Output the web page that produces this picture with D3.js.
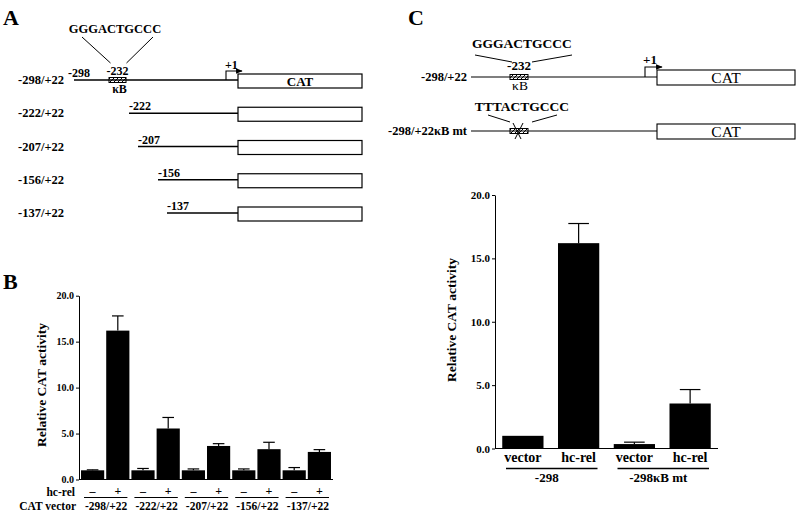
<!DOCTYPE html>
<html>
<head>
<meta charset="utf-8">
<script src="https://cdn.jsdelivr.net/npm/d3@7"></script>
<style>
  body { margin: 0; background: #fff; }
  text { font-family: "Liberation Serif", "Times New Roman", serif; font-weight: bold; fill: #000; }
  text.plain { font-weight: normal; }
</style>
</head>
<body>
<svg id="fig"></svg>
<script>
// ---- data ----
const constructs     = ['-298/+22', '-222/+22', '-207/+22', '-156/+22', '-137/+22'];
const constructStart = [-298, -222, -207, -156, -137];
const kbSite         = -232;
const kbSeq          = 'GGGACTGCCC';
const kbMutSeq       = 'TTTACTGCCC';

const hcRelMarks  = ['–', '+'];
const vectorMean  = [1.0, 1.0, 1.0, 1.0, 1.0];
const vectorErr   = [0.05, 0.2, 0.15, 0.15, 0.3];
const hcRelMean   = [16.2, 5.55, 3.65, 3.3, 3.0];
const hcRelErr    = [1.6, 1.2, 0.25, 0.75, 0.25];
const yTicks      = [0, 5, 10, 15, 20];

const cConstructs = ['-298/+22', '-298/+22κB mt'];
const cGroups     = ['-298', '-298κB mt'];
const cTreatments = ['vector', 'hc-rel'];
const cMean       = [1.0, 16.2, 0.35, 3.55];
const cErr        = [0, 1.55, 0.15, 1.1];

const SVG_W = 800, SVG_H = 518;

const svg = d3.select('#fig').attr('width', SVG_W).attr('height', SVG_H);

const defs = svg.append('defs');
defs.append('pattern')
  .attr('id', 'hatch').attr('patternUnits', 'userSpaceOnUse')
  .attr('width', 4).attr('height', 4)
  .append('path').attr('d', 'M-1,5 L5,-1').attr('stroke', '#000').attr('stroke-width', 1);
defs.append('marker')
  .attr('id', 'arrow').attr('viewBox', '0 0 10 10')
  .attr('refX', 9).attr('refY', 5)
  .attr('markerWidth', 6).attr('markerHeight', 6).attr('orient', 'auto')
  .append('path').attr('d', 'M0,1 L10,5 L0,9 z').attr('fill', '#000');

// panel letters
svg.append('text').attr('x', 3).attr('y', 25).attr('font-size', 22).text('A');
svg.append('text').attr('x', 3).attr('y', 289).attr('font-size', 22).text('B');
svg.append('text').attr('x', 408).attr('y', 25).attr('font-size', 22).text('C');

// ---- panel A: deletion constructs ----
// schematic, not to scale: piecewise position scale
const posA = d3.scaleLinear()
  .domain([-298, kbSite, -222, -207, -156, -137, 1, 22])
  .range([74, 117.5, 129, 138, 158, 167, 226, 238]);
const rowA = d3.scalePoint().domain(constructs).range([80, 213]);
const CAT_W = 124;

const gA = svg.append('g');
constructs.forEach((c, i) => {
  const y = rowA(c);
  const x0 = posA(constructStart[i]);
  gA.append('text').attr('x', 18).attr('y', y + 4).attr('font-size', 12.5).text(c);
  gA.append('line').attr('x1', x0).attr('x2', posA(22)).attr('y1', y).attr('y2', y)
    .attr('stroke', '#000').attr('stroke-width', 1.3);
  gA.append('text').attr('x', x0 - (i === 0 ? 6 : 0)).attr('y', y - 3)
    .attr('font-size', 12).text(constructStart[i]);
  gA.append('rect').attr('x', posA(22)).attr('y', y - 6).attr('width', CAT_W).attr('height', 14)
    .attr('fill', '#fff').attr('stroke', '#000').attr('stroke-width', 1.2);
});
{
  const y = rowA(constructs[0]);
  const kx = posA(kbSite);
  gA.append('rect').attr('x', kx - 8.5).attr('y', y - 2.5).attr('width', 17).attr('height', 5)
    .attr('fill', 'url(#hatch)').attr('stroke', '#000').attr('stroke-width', 1);
  gA.append('text').attr('x', kx).attr('y', y - 5).attr('text-anchor', 'middle')
    .attr('font-size', 12).text(kbSite);
  gA.append('text').attr('x', kx + 2).attr('y', y + 13).attr('text-anchor', 'middle')
    .attr('font-size', 12).text('κB');
  gA.append('text').attr('x', 115).attr('y', 33).attr('text-anchor', 'middle')
    .attr('font-size', 12.5).text(kbSeq);
  gA.append('line').attr('x1', 82).attr('y1', 37).attr('x2', kx - 7).attr('y2', y - 17)
    .attr('stroke', '#000');
  gA.append('line').attr('x1', 153).attr('y1', 37).attr('x2', kx + 9).attr('y2', y - 17)
    .attr('stroke', '#000');
  const tx = posA(1);
  gA.append('path').attr('d', `M${tx},${y} V${y - 9} H${tx + 16}`)
    .attr('fill', 'none').attr('stroke', '#000').attr('stroke-width', 1.1)
    .attr('marker-end', 'url(#arrow)');
  gA.append('text').attr('x', tx - 1).attr('y', y - 11).attr('font-size', 12).text('+1');
  gA.append('text').attr('x', posA(22) + CAT_W / 2).attr('y', y + 6).attr('text-anchor', 'middle')
    .attr('font-size', 13).text('CAT');
}

// ---- shared bar helpers ----
function drawYAxis(g, y, x, fontSize) {
  const ax = g.append('g').attr('transform', `translate(${x},0)`)
    .call(d3.axisLeft(y).tickValues(yTicks).tickFormat(d3.format('.1f'))
      .tickSizeInner(3).tickSizeOuter(0).tickPadding(2));
  ax.select('.domain').attr('stroke', '#000');
  ax.selectAll('.tick line').attr('stroke', '#000');
  ax.selectAll('.tick text').attr('font-size', fontSize)
    .attr('font-family', '"Liberation Serif", serif').attr('font-weight', 'bold');
}

function drawBars(g, data, xOf, bw, y) {
  g.selectAll('rect.bar').data(data).enter().append('rect')
    .attr('class', 'bar')
    .attr('x', d => xOf(d)).attr('width', bw)
    .attr('y', d => y(d.v)).attr('height', d => y(0) - y(d.v))
    .attr('fill', '#000');
  const err = data.filter(d => d.e > 0);
  g.selectAll('line.err').data(err).enter().append('line')
    .attr('class', 'err')
    .attr('x1', d => xOf(d) + bw / 2).attr('x2', d => xOf(d) + bw / 2)
    .attr('y1', d => y(d.v)).attr('y2', d => y(d.v + d.e))
    .attr('stroke', '#000').attr('stroke-width', 1.2);
  g.selectAll('line.cap').data(err).enter().append('line')
    .attr('class', 'cap')
    .attr('x1', d => xOf(d) + bw * 0.25).attr('x2', d => xOf(d) + bw * 0.75)
    .attr('y1', d => y(d.v + d.e)).attr('y2', d => y(d.v + d.e))
    .attr('stroke', '#000').attr('stroke-width', 1.2);
}

// ---- panel B ----
const bData = constructs.flatMap((c, i) => [
  { group: c, t: hcRelMarks[0], v: vectorMean[i], e: vectorErr[i] },
  { group: c, t: hcRelMarks[1], v: hcRelMean[i],  e: hcRelErr[i] }
]);
const yB  = d3.scaleLinear().domain([0, 20]).range([479.5, 295.7]);
const gxB = d3.scaleBand().domain(constructs).range([79, 333]).paddingInner(0).paddingOuter(0.02);
const ixB = d3.scaleBand().domain(hcRelMarks).range([0, gxB.bandwidth()]).paddingInner(0.08).paddingOuter(0.04);
const xB  = d => gxB(d.group) + ixB(d.t);

const gB = svg.append('g');
drawBars(gB, bData, xB, ixB.bandwidth(), yB);
gB.append('line').attr('x1', 79).attr('x2', 333).attr('y1', yB(0)).attr('y2', yB(0))
  .attr('stroke', '#000').attr('stroke-width', 1);
drawYAxis(gB, yB, 79, 10);
gB.append('text').attr('transform', `translate(46,385) rotate(-90)`)
  .attr('text-anchor', 'middle').attr('font-size', 13.5).text('Relative CAT activity');

gB.selectAll('text.sign').data(bData).enter().append('text')
  .attr('class', 'sign')
  .attr('x', d => xB(d) + ixB.bandwidth() / 2).attr('y', 494.5)
  .attr('text-anchor', 'middle').attr('font-size', 12).text(d => d.t);
gB.append('text').attr('x', 75).attr('y', 496).attr('text-anchor', 'end')
  .attr('font-size', 11.5).text('hc-rel');
gB.append('text').attr('x', 76).attr('y', 510).attr('text-anchor', 'end')
  .attr('font-size', 11.5).text('CAT vector');
constructs.forEach(c => {
  const gx = gxB(c);
  gB.append('line').attr('x1', gx + 4).attr('x2', gx + gxB.bandwidth() - 3)
    .attr('y1', 497.5).attr('y2', 497.5).attr('stroke', '#000').attr('stroke-width', 1.2);
  gB.append('text').attr('x', gx + gxB.bandwidth() / 2 + 1).attr('y', 510)
    .attr('text-anchor', 'middle').attr('font-size', 11.5).text(c);
});

// ---- panel C: kB mutant diagram ----
const posC = d3.scaleLinear().domain([-298, kbSite, 1, 22]).range([471, 519, 645, 657]);
const rowC = d3.scalePoint().domain(cConstructs).range([77, 131]);
const CAT_WC = 138;

const gC = svg.append('g');
cConstructs.forEach((c, i) => {
  const y = rowC(c);
  const kx = posC(kbSite);
  gC.append('text').attr('x', 467).attr('y', y + 4).attr('text-anchor', 'end')
    .attr('font-size', 12.5).text(c);
  gC.append('line').attr('x1', posC(-298)).attr('x2', posC(22)).attr('y1', y).attr('y2', y)
    .attr('stroke', '#000').attr('stroke-width', 1.2);
  gC.append('rect').attr('x', kx - 9).attr('y', y - 2.5).attr('width', 18).attr('height', 5)
    .attr('fill', 'url(#hatch)').attr('stroke', '#000').attr('stroke-width', 1);
  gC.append('rect').attr('x', posC(22)).attr('y', y - 7).attr('width', CAT_WC).attr('height', 15)
    .attr('fill', '#fff').attr('stroke', '#000').attr('stroke-width', 1.1);
  gC.append('text').attr('class', 'plain')
    .attr('x', posC(22) + CAT_WC / 2).attr('y', y + 6).attr('text-anchor', 'middle')
    .attr('font-size', 15.5).text('CAT');
  const seqY = i === 0 ? 48 : y - 20;
  gC.append('text').attr('x', 522).attr('y', seqY).attr('text-anchor', 'middle')
    .attr('font-size', 13.5).text(i === 0 ? kbSeq : kbMutSeq);
});
{
  const y = rowC(cConstructs[0]);
  const kx = posC(kbSite);
  gC.append('text').attr('x', kx).attr('y', y - 7).attr('text-anchor', 'middle')
    .attr('font-size', 13).text(kbSite);
  gC.append('text').attr('class', 'plain')
    .attr('x', kx + 1).attr('y', y + 13).attr('text-anchor', 'middle')
    .attr('font-size', 13.5).text('κB');
  gC.append('line').attr('x1', 475).attr('y1', 55).attr('x2', 512).attr('y2', 62).attr('stroke', '#000');
  gC.append('line').attr('x1', 572).attr('y1', 55).attr('x2', 532).attr('y2', 62).attr('stroke', '#000');
  const tx = posC(1);
  gC.append('path').attr('d', `M${tx},${y} V${y - 10} H${tx + 17}`)
    .attr('fill', 'none').attr('stroke', '#000').attr('stroke-width', 1.1)
    .attr('marker-end', 'url(#arrow)');
  gC.append('text').attr('x', tx - 2).attr('y', y - 13).attr('font-size', 13).text('+1');

  const y2 = rowC(cConstructs[1]);
  gC.append('line').attr('x1', 488).attr('y1', y2 - 16).attr('x2', 510).attr('y2', y2 - 9).attr('stroke', '#000');
  gC.append('line').attr('x1', 557).attr('y1', y2 - 16).attr('x2', 532).attr('y2', y2 - 9).attr('stroke', '#000');
  gC.append('line').attr('x1', kx - 6).attr('y1', y2 - 8).attr('x2', kx + 2).attr('y2', y2 + 8).attr('stroke', '#000');
  gC.append('line').attr('x1', kx + 4).attr('y1', y2 - 8).attr('x2', kx - 4).attr('y2', y2 + 8).attr('stroke', '#000');
}

// ---- panel C: bars ----
const cData = cGroups.flatMap((g, gi) => cTreatments.map((t, ti) => ({
  group: g, t: t, v: cMean[gi * 2 + ti], e: cErr[gi * 2 + ti]
})));
const yC  = d3.scaleLinear().domain([0, 20]).range([448.5, 195]);
const gxC = d3.scaleBand().domain(cGroups).range([495, 718]);
const ixC = d3.scaleBand().domain(cTreatments).range([0, gxC.bandwidth()]).paddingInner(0.26).paddingOuter(0.13);
const xC  = d => gxC(d.group) + ixC(d.t);

const gCB = svg.append('g');
drawBars(gCB, cData, xC, ixC.bandwidth(), yC);
gCB.append('line').attr('x1', 495).attr('x2', 718).attr('y1', yC(0)).attr('y2', yC(0))
  .attr('stroke', '#000').attr('stroke-width', 1);
drawYAxis(gCB, yC, 495, 11);
gCB.append('text').attr('transform', `translate(456,320) rotate(-90)`)
  .attr('text-anchor', 'middle').attr('font-size', 13.5).text('Relative CAT activity');

gCB.selectAll('text.treat').data(cData).enter().append('text')
  .attr('class', 'treat')
  .attr('x', d => xC(d) + ixC.bandwidth() / 2).attr('y', 462)
  .attr('text-anchor', 'middle').attr('font-size', 14).text(d => d.t);
cGroups.forEach(g => {
  const gx = gxC(g);
  gCB.append('line').attr('x1', gx + 11).attr('x2', gx + gxC.bandwidth() - 9)
    .attr('y1', 468.5).attr('y2', 468.5).attr('stroke', '#000').attr('stroke-width', 1.5);
  gCB.append('text').attr('x', gx + gxC.bandwidth() / 2 - 4).attr('y', 482)
    .attr('text-anchor', 'middle').attr('font-size', 13).text(g);
});
</script>
</body>
</html>
